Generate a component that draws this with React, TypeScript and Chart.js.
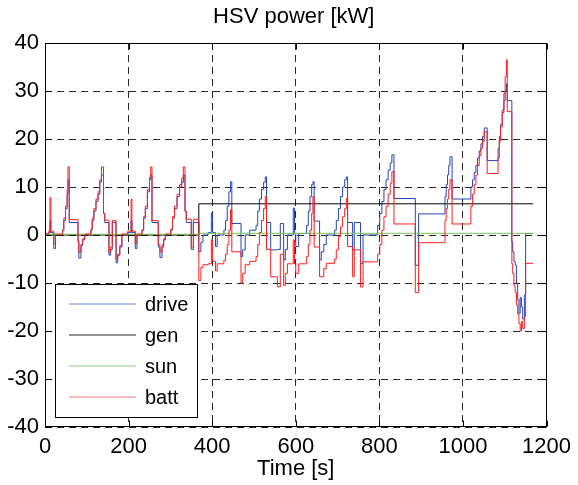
import React, { useEffect, useRef } from "react";
import { Chart, registerables } from "chart.js";

Chart.register(...registerables);

// ---- data (kW over time s) ----
const timeS = [
  0, 9, 12, 14, 21, 25, 42, 45, 49, 53, 55, 58, 79, 81, 86, 90, 95,
  110, 113, 117, 122, 127, 131, 135, 140, 143, 153, 157, 161, 170, 174, 179, 184,
  198, 206, 208, 216, 220, 232, 236, 240, 245, 250, 253, 256, 271, 275, 280, 284, 288,
  301, 305, 310, 316, 322, 327, 331, 335, 338, 350, 355,
  368, 373, 378, 390, 398, 401, 408, 412, 428, 432, 436, 440, 444, 447, 469, 473, 479,
  490, 505, 509, 513, 518, 523, 527, 530, 540, 556, 563, 571, 575, 580,
  594, 597, 600, 607, 626, 630, 634, 638, 641, 644, 657, 661, 667, 673,
  693, 697, 702, 707, 712, 717, 721, 724, 736, 740, 755, 761,
  796, 801, 806, 811, 816, 821, 826, 830, 835, 886, 894,
  957, 960, 963, 966, 969, 974,
  1019, 1023, 1027, 1031, 1035, 1039, 1043, 1047, 1051, 1058,
  1084, 1087, 1090, 1094, 1098, 1101, 1104, 1106,
  1117, 1119, 1122, 1125, 1128, 1131, 1134, 1137, 1140, 1143, 1147, 1150, 1168,
];

const driveKW = [
  0, 0.5, 3, 0.5, -2.8, 0, 1, 3, 5.5, 8.5, 11.5, 2.6, -1.5, -4.8, -2.2, -1, 0,
  1, 3, 5, 7, 8.5, 11, 12.5, 4.5, 2.6, -4.2, -3, 2.6, -5.8, -4.2, -2.5, 0,
  0.5, 3, 0.5, -2.8, 0, 1, 3.5, 5.5, 9, 11.5, 12.5, 2.6, -2.5, -4.7, -2.5, -1, 0,
  1, 3.5, 5.5, 8, 10, 11, 12.5, 5, 2.6, -3, 2.6,
  -3.5, -1.5, 0, 0.5, 4.6, 0.5, -2.4, 0, 1, 3, 6, 9, 11.1, 2.4, -4.5, -3.1, 0,
  1, 2, 5, 7.5, 9.5, 11, 12.1, 2.6, -3.1, -3, 2.4, -5.2, -3, 0,
  5.6, 0.3, -2.4, 0.3, 2, 5, 8, 10.5, 11.1, 2.9, -5.2, -3.5, -2, 0,
  1, 3, 5.5, 8, 10, 11.5, 12.1, 2.6, -3.1, 2.6, -5.9, 0,
  2, 4.5, 7, 9.5, 11.5, 13.5, 15, 16.7, 7.6, -6.3, 4.4,
  8, 10.5, 12.5, 14.5, 16.3, 7.5,
  10, 11.5, 13, 14.5, 16, 17.5, 19, 20.5, 22.3, 15.5,
  18, 20.5, 23, 25.5, 28, 30, 31.5, 28,
  -1.4, -3.5, -5.5, -6.3, -10, -13.5, -16.3, -13, -15, -17.5, -12.5, 0.3, 0.3,
];

const battKW = [
  0.3, 0.8, 7.8, 0.8, -1.8, 0.2, 1, 3.5, 6, 9.5, 14.2, 3.2, -1, -3.6, -2, -0.8, 0.2,
  1.2, 3.5, 5.5, 7.5, 9, 11.5, 14.2, 4.5, 3.1, -3.6, -2.5, 3, -5, -4, -2.2, 0.2,
  0.8, 7.5, 0.8, -1.8, 0.2, 1, 3.8, 6, 9.5, 12, 14.2, 3, -2, -3.5, -2, -0.8, 0.2,
  1.2, 3.8, 6, 8.5, 10.5, 11.8, 14.2, 5, 3.3, -2.5, 3.3,
  -9.5, -6.8, -6.2, -6, -1, -5.5, -7.5, -6, -5.3, -4, -2, 1, 5.3, -3.5, -10, -8, -6.2,
  -5.5, -4.5, -2, 0.5, 3, 5.5, 8, -3, -8.7, -10.8, -4, -10.5, -8, -6,
  -1, -6, -8, -6, -4.5, -2, 1, 4.5, 8, -2.5, -8.7, -8.7, -7, -5.9,
  -5, -3.1, -0.3, 1.7, 3.8, 5.5, 7.6, -2.4, -8.7, -3.1, -10.8, -5.6,
  -4, -2, 1, 3.8, 6, 8.5, 10.8, 13.2, 2.3, -12, -1.6,
  3, 5.5, 7.5, 9.5, 11.5, 2.3,
  6, 8.5, 10.5, 12.5, 14.5, 16.5, 18, 19.5, 21.5, 12.8,
  16, 19.5, 22.5, 26, 29.5, 33, 36.5, 25.7,
  -6, -8, -10.5, -12, -14.6, -16.5, -18.5, -20, -18, -19.5, -17, -5.9, -5.9,
];

const genT = [0, 368, 1168];
const genKW = [0, 6.5, 6.5];

const sunT = [0, 368, 1168];
const sunKW = [0.15, 0.35, 0.35];

const xTicks = [0, 200, 400, 600, 800, 1000, 1200];
const yTicks = [-40, -30, -20, -10, 0, 10, 20, 30, 40];

const seriesNames = ["drive", "gen", "sun", "batt"];
const seriesColors = ["#2646b4", "#000000", "#74c658", "#ff1e1e"];
const legendColors = ["#6f83d4", "#222222", "#8fd07a", "#f27a7a"];

const titleText = "HSV power [kW]";
const xLabelText = "Time [s]";

const FONT = "'Liberation Sans', Arial, Helvetica, sans-serif";

function pts(t: number[], v: number[]) {
  return t.map((x, i) => ({ x, y: v[i] }));
}

const framePlugin = {
  id: "matlabFrame",
  afterDatasetsDraw(chart: any) {
    const { ctx, chartArea } = chart;
    const { left, right, top, bottom } = chartArea;
    const xs = chart.scales.x;
    const ys = chart.scales.y;
    ctx.save();
    ctx.strokeStyle = "#000";
    ctx.lineWidth = 1;
    ctx.setLineDash([]);
    const L = Math.round(left) + 0.5;
    const R = Math.round(right) - 0.5;
    const T = Math.round(top) + 0.5;
    const B = Math.round(bottom) - 0.5;
    ctx.strokeRect(L, T, R - L, B - T);
    const tl = 6;
    ctx.beginPath();
    xTicks.forEach((v) => {
      const px = Math.round(xs.getPixelForValue(v)) + 0.5;
      ctx.moveTo(px, B);
      ctx.lineTo(px, B - tl);
      ctx.moveTo(px, T);
      ctx.lineTo(px, T + tl);
    });
    yTicks.forEach((v) => {
      const py = Math.round(ys.getPixelForValue(v)) + 0.5;
      ctx.moveTo(L, py);
      ctx.lineTo(L + tl, py);
      ctx.moveTo(R, py);
      ctx.lineTo(R - tl, py);
    });
    ctx.stroke();

    // legend box
    const bx = 55.5, by = 284.5, bw = 142, bh = 133;
    ctx.fillStyle = "#fff";
    ctx.fillRect(bx, by, bw, bh);
    ctx.strokeRect(bx, by, bw, bh);
    const rows = [304, 335, 366, 397];
    ctx.font = `20px ${FONT}`;
    ctx.textAlign = "left";
    ctx.textBaseline = "alphabetic";
    seriesNames.forEach((name, i) => {
      ctx.strokeStyle = legendColors[i];
      ctx.lineWidth = 1;
      ctx.beginPath();
      ctx.moveTo(69, rows[i]);
      ctx.lineTo(136, rows[i]);
      ctx.stroke();
      ctx.fillStyle = "#000";
      ctx.fillText(name, 145, rows[i] + 7);
    });
    ctx.restore();
  },
  afterDraw(chart: any) {
    const { ctx, chartArea } = chart;
    const cx = (chartArea.left + chartArea.right) / 2;
    ctx.save();
    ctx.fillStyle = "#000";
    ctx.font = `22px ${FONT}`;
    ctx.textAlign = "center";
    ctx.textBaseline = "middle";
    ctx.fillText(titleText, cx - 2, 17);
    ctx.fillText(xLabelText, cx, 469);
    ctx.restore();
  },
};

export default function App() {
  const ref = useRef<HTMLCanvasElement | null>(null);

  useEffect(() => {
    document.body.style.margin = "0";
    document.body.style.overflow = "hidden";
    const canvas = ref.current;
    if (!canvas) return;
    const grid = {
      color: "rgba(0,0,0,0.85)",
      lineWidth: 1,
      drawTicks: false,
    };
    const border = { display: false, dash: [7, 5] };
    const chart = new Chart(canvas, {
      type: "line",
      data: {
        datasets: [
          {
            label: seriesNames[3],
            data: pts(timeS, battKW),
            borderColor: seriesColors[3],
          },
          {
            label: seriesNames[2],
            data: pts(sunT, sunKW),
            borderColor: seriesColors[2],
          },
          {
            label: seriesNames[1],
            data: pts(genT, genKW),
            borderColor: seriesColors[1],
          },
          {
            label: seriesNames[0],
            data: pts(timeS, driveKW),
            borderColor: seriesColors[0],
          },
        ].map((d) => ({
          ...d,
          borderWidth: 1,
          pointRadius: 0,
          stepped: true,
          tension: 0,
          fill: false,
        })) as any,
      },
      options: {
        animation: false,
        responsive: false,
        maintainAspectRatio: false,
        layout: { padding: { top: 43, right: 22, left: 0, bottom: 0 } },
        plugins: {
          legend: { display: false },
          title: { display: false },
          tooltip: { enabled: false },
        },
        scales: {
          x: {
            type: "linear",
            min: 0,
            max: 1200,
            grid,
            border,
            afterBuildTicks: (s: any) => {
              s.ticks = xTicks.map((v) => ({ value: v }));
            },
            afterFit: (s: any) => {
              s.height = 58;
            },
            ticks: {
              autoSkip: false,
              maxRotation: 0,
              minRotation: 0,
              padding: 7,
              color: "#000",
              font: { size: 22, family: FONT },
              callback: (v: any) => String(v),
            },
          },
          y: {
            type: "linear",
            min: -40,
            max: 40,
            grid,
            border,
            afterBuildTicks: (s: any) => {
              s.ticks = yTicks.map((v) => ({ value: v }));
            },
            afterFit: (s: any) => {
              s.width = 45;
            },
            ticks: {
              autoSkip: false,
              padding: 6,
              color: "#000",
              font: { size: 22, family: FONT },
              callback: (v: any) => String(v),
            },
          },
        },
      },
      plugins: [framePlugin],
    });
    return () => chart.destroy();
  }, []);

  return (
    <div style={{ width: 578, height: 485, background: "#fff" }}>
      <canvas ref={ref} width={578} height={485} style={{ display: "block" }} />
    </div>
  );
}
